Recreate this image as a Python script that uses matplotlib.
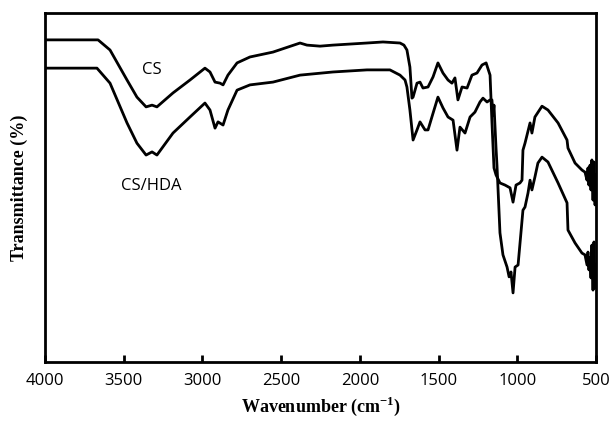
import matplotlib
matplotlib.use("Agg")
import matplotlib.pyplot as plt

# ---- data ----
wn_cs = [4000, 3663, 3587, 3479, 3416, 3358, 3320, 3289, 3187, 3079, 2984, 2952, 2920,
         2888, 2869, 2838, 2780, 2698, 2552, 2380, 2336, 2253, 2171, 1955, 1853, 1745,
         1720, 1701, 1682, 1669, 1662, 1637, 1618, 1599, 1567, 1535, 1504, 1472, 1440,
         1415, 1396, 1377, 1351, 1319, 1288, 1256, 1224, 1198, 1173, 1161, 1148, 1135,
         1110, 1078, 1046, 1027, 1008, 983, 970, 964, 951, 919, 907, 888, 843, 805, 741,
         684, 678, 633, 589, 570, 557, 551, 545, 538, 532, 526, 519, 513, 506, 500]
t_cs = [92.3, 92.3, 89.4, 80.8, 75.9, 73.1, 73.6, 73.1, 77.1, 80.8, 84.2, 83.1, 80.2,
        79.9, 79.4, 82.2, 85.7, 87.4, 88.8, 91.4, 90.8, 90.5, 90.8, 91.4, 91.7, 91.4,
        90.8, 89.4, 84.5, 75.6, 75.9, 79.9, 80.2, 78.5, 78.8, 81.7, 85.7, 82.8, 80.8,
        79.9, 81.4, 75.1, 78.8, 78.5, 82.2, 82.8, 85.1, 85.7, 82.2, 68.8, 55.6, 53.6,
        51.3, 50.7, 49.9, 45.8, 50.7, 51.3, 52.1, 60.7, 62.7, 68.5, 65.6, 70.2, 73.3,
        72.2, 68.5, 63.6, 61.3, 57.0, 55.0, 54.4, 52.1, 55.6, 50.7, 56.4, 49.3, 57.9,
        46.4, 57.3, 45.0, 53.6]

wn_hda = [4000, 3670, 3587, 3479, 3416, 3358, 3320, 3289, 3187, 3079, 2984, 2952, 2920,
          2901, 2869, 2838, 2780, 2698, 2552, 2380, 2171, 1955, 1809, 1745, 1713, 1701,
          1682, 1662, 1637, 1618, 1586, 1567, 1535, 1504, 1472, 1440, 1408, 1383, 1364,
          1332, 1300, 1269, 1237, 1218, 1192, 1173, 1161, 1154, 1148, 1135, 1129, 1110,
          1091, 1065, 1052, 1040, 1027, 1014, 995, 964, 951, 932, 919, 907, 888, 869,
          843, 805, 741, 684, 678, 633, 589, 570, 557, 551, 545, 538, 532, 526, 519, 513,
          506, 500]
t_hda = [84.2, 84.2, 79.9, 68.5, 62.7, 59.3, 60.2, 59.3, 65.6, 70.2, 74.2, 72.2, 67.0,
         68.8, 67.9, 72.2, 77.9, 79.4, 80.2, 82.2, 83.1, 83.7, 83.7, 82.2, 80.8, 78.8,
         72.2, 63.6, 66.5, 68.8, 66.5, 66.5, 71.3, 75.9, 72.8, 70.2, 69.3, 60.7, 67.3,
         65.6, 70.2, 71.6, 74.5, 75.6, 74.5, 75.1, 75.1, 70.8, 73.6, 61.3, 56.4, 37.0,
         30.7, 27.2, 24.4, 25.8, 19.8, 27.2, 27.8, 43.5, 44.4, 48.4, 52.1, 49.3, 53.0,
         57.0, 58.7, 57.3, 51.3, 45.6, 37.8, 34.1, 31.2, 30.7, 27.8, 31.5, 26.4, 30.0,
         24.1, 33.5, 20.6, 34.4, 21.2, 27.8]

xticks = [4000, 3500, 3000, 2500, 2000, 1500, 1000, 500]
labels = ["CS", "CS/HDA"]
label_pos = [(3320, 83.7), (3327, 50.4)]

plt.rcParams['mathtext.fontset'] = 'custom'
plt.rcParams['mathtext.rm'] = 'Liberation Serif:bold'
plt.rcParams['mathtext.bf'] = 'Liberation Serif:bold'

fig = plt.figure(figsize=(6.12, 4.22), dpi=100)
ax = fig.add_axes([45/612, 60/422, 551/612, 349/422])

ax.plot(wn_cs, t_cs, color='black', lw=2.0)
ax.plot(wn_hda, t_hda, color='black', lw=2.0)

for txt, (x, y) in zip(labels, label_pos):
    ax.text(x, y, txt, ha='center', va='center', fontsize=12, family='Open Sans')

ax.set_xlim(4000, 500)
ax.set_ylim(0, 100)
ax.set_xticks(xticks)
ax.set_xticklabels([str(v) for v in xticks], family='Open Sans', fontsize=12)
ax.set_yticks([])
ax.tick_params(axis='x', direction='in', length=5, width=2, pad=8)
ax.tick_params(axis='x', top=False)
for s in ax.spines.values():
    s.set_linewidth(2)

ax.set_xlabel(r'Wavenumber (cm$^{-1}$)', family='Liberation Serif', fontweight='bold',
              fontsize=13, labelpad=4)
ax.set_ylabel('Transmittance (%)', family='Liberation Serif', fontweight='bold',
              fontsize=13, labelpad=12)

fig.savefig('out.png', dpi=100)
